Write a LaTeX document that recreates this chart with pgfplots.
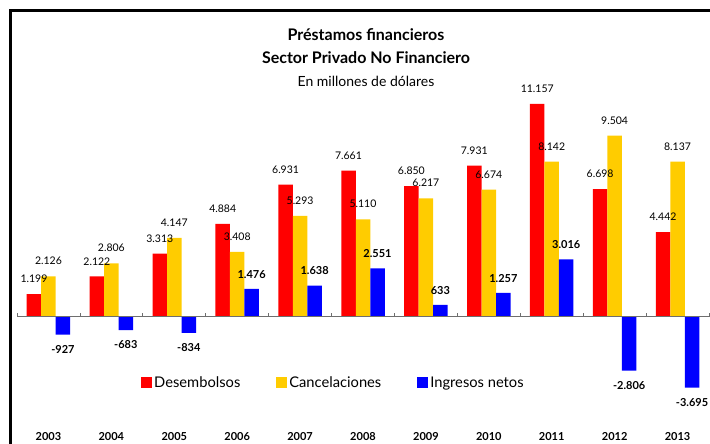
\documentclass[border=0pt]{standalone}
\usepackage{pgfplots}
\pgfplotsset{compat=1.18}
\usepackage{fontspec}
\setmainfont{Lato}
\definecolor{cRed}{RGB}{255,0,0}
\definecolor{cYel}{RGB}{255,204,0}
\definecolor{cBlue}{RGB}{0,0,255}
\definecolor{cAxis}{RGB}{110,110,110}
\begin{document}
\begin{tikzpicture}
\useasboundingbox (0pt,0pt) rectangle (710pt,-444pt);
\begin{scope}
\clip (0pt,0pt) rectangle (710pt,-444pt);
\draw[line width=2.5pt] (10.3pt,-10.5pt) rectangle (760pt,-500pt);
\end{scope}
\node[font=\bfseries\fontsize{16}{18}\selectfont, anchor=base] at (366pt,-41pt) {Préstamos financieros};
\node[font=\bfseries\fontsize{16}{18}\selectfont, anchor=base] at (366pt,-64pt) {Sector Privado No Financiero};
\node[font=\fontsize{14}{16}\selectfont, anchor=base] at (366pt,-87pt) {En millones de dólares};
\begin{axis}[
  at={(17pt,-412.45pt)}, anchor=south west,
  scale only axis, width=692pt, height=324.55pt,
  xmin=-0.5, xmax=10.5, ymin=-5000, ymax=12000,
  ybar=0pt, bar width=14.5pt,
  axis x line*=bottom, axis y line=none,
  x axis line style={draw=none},
  xtick={0,1,2,3,4,5,6,7,8,9,10},
  xticklabels={2003,2004,2005,2006,2007,2008,2009,2010,2011,2012,2013},
  major tick length=0pt,
  xticklabel style={font=\bfseries\fontsize{11}{13}\selectfont, yshift=-16pt},
  clip=false,
  nodes near coords,
  every node near coord/.append style={font=\fontsize{10.5}{12}\selectfont, inner xsep=0pt, inner ysep=11.2pt, text=black},
  /pgf/number format/1000 sep={.},
  /pgf/number format/assume math mode=true,
  legend columns=3,
  legend style={at={(0.1792,0.0907)}, anchor=west, draw=none, fill=none, inner sep=0pt,
    font=\fontsize{14.7}{16}\selectfont,
    /tikz/every even column/.append style={column sep=34pt}},
  legend image code/.code={\fill[#1] (0pt,-5pt) rectangle (11pt,6pt);},
]
\addplot[fill=cRed, draw=none] coordinates {(0,1199) (1,2122) (2,3313) (3,4884) (4,6931) (5,7661) (6,6850) (7,7931) (8,11157) (9,6698) (10,4442)};
\addplot[fill=cYel, draw=none] coordinates {(0,2126) (1,2806) (2,4147) (3,3408) (4,5293) (5,5110) (6,6217) (7,6674) (8,8142) (9,9504) (10,8137)};
\addplot[fill=cBlue, draw=none, every node near coord/.append style={font=\bfseries\fontsize{11}{13}\selectfont, inner ysep=10.5pt}] coordinates {(0,-927) (1,-683) (2,-834) (3,1476) (4,1638) (5,2551) (6,633) (7,1257) (8,3016) (9,-2806) (10,-3695)};
\legend{Desembolsos, Cancelaciones, Ingresos netos}
\draw[cAxis, line width=1pt] (axis cs:-0.5,0) -- (axis cs:10.5,0);
\pgfplotsinvokeforeach{-0.5,0.5,1.5,2.5,3.5,4.5,5.5,6.5,7.5,8.5,9.5,10.5}{\draw[cAxis, line width=0.8pt] (axis cs:#1,0) -- ++(0pt,4pt);}
\end{axis}
\end{tikzpicture}
\end{document}
